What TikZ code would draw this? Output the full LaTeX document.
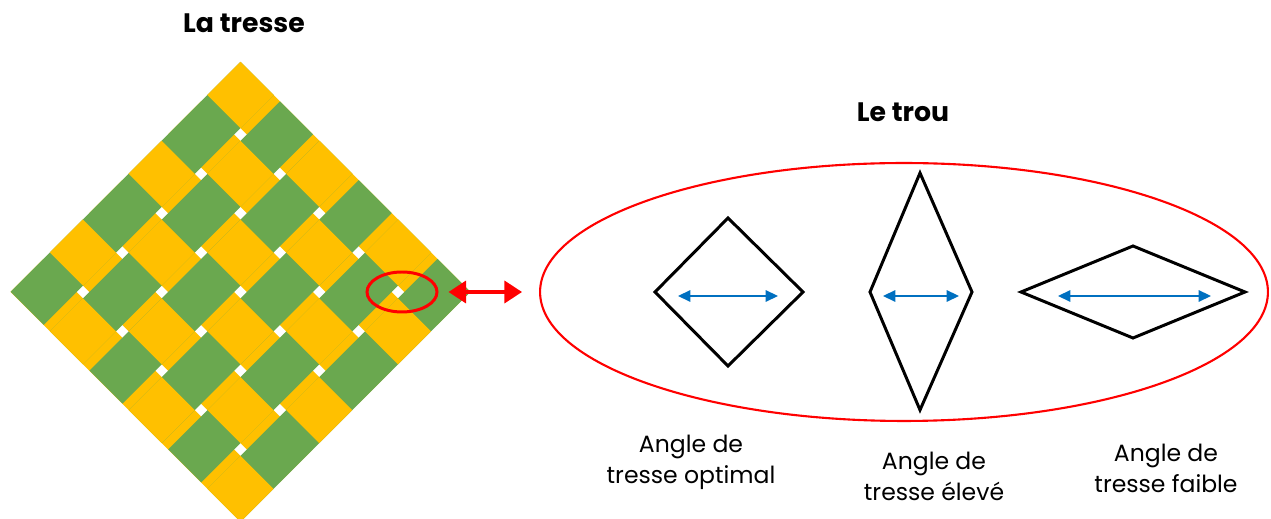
\documentclass[tikz,border=0pt]{standalone}
\usepackage{fontspec}
\setmainfont{Poppins}
\usetikzlibrary{arrows.meta, positioning, shapes.geometric}
\definecolor{tresseJaune}{RGB}{255,192,0}
\definecolor{tresseVert}{RGB}{106,168,79}
\definecolor{flecheBleue}{RGB}{0,112,192}

\begin{document}
\begin{tikzpicture}[x=0.02cm, y=-0.02cm,
    titre/.style={font=\bfseries\fontsize{15.2}{18}\selectfont},
    legende/.style={align=center, font=\fontsize{13.4}{17.6}\selectfont},
    losange/.style={draw=black, line width=1.7pt, line join=miter},
    cote/.style={draw=flecheBleue, line width=0.9pt,
        {Triangle[length=7pt,width=6.5pt]}-{Triangle[length=7pt,width=6.5pt]}},
    loupe/.style={draw=red, ellipse, inner sep=0pt}]
    \useasboundingbox (0,0) rectangle (1271,519);
    % 1. The braid (plain weave, 6 x 6 strips)
    \def\tw{46.7}
    \def\tp{55.7}
    \def\tl{325}
    \begin{scope}[shift={(240.5,62)}, rotate=-45]
        \foreach \i in {0,...,5} {
            \fill[tresseJaune] (0,\i*\tp) rectangle ++(\tl,\tw);
        }
        \foreach \j in {0,...,5} {
            \fill[tresseVert] (\j*\tp,0) rectangle ++(\tw,\tl);
        }
        \foreach \i in {0,...,5} {
            \foreach \j in {0,...,5} {
                \pgfmathtruncatemacro{\dessus}{mod(\i+\j,2)}
                \ifnum\dessus=0
                    \fill[tresseJaune] (\j*\tp,\i*\tp) rectangle ++(\tw,\tw);
                \fi
            }
        }
    \end{scope}
    \node[titre] (tresse) at (244,23) {La tresse};
    % 2. Zoom on one hole
    \node[loupe, line width=1.7pt, minimum width=1.4cm, minimum height=0.8cm] (zoom) at (402,292) {};
    \node[loupe, line width=1.2pt, minimum width=14.56cm, minimum height=5.16cm] (trou) at (904,292) {};
    \node[titre] (titretrou) at (903,112) {Le trou};
    \draw[red, line width=2pt, {Triangle[length=10pt,width=12.5pt]}-{Triangle[length=10pt,width=12.5pt]}]
        ([xshift=2mm]zoom.east) -- ([xshift=-3.4mm]trou.west);
    % 3. Hole shapes
    \draw[losange] (728,218) -- (803,292) -- (728,366) -- (655,292) -- cycle;
    \draw[losange] (920,173) -- (972,292) -- (920,410) -- (870,292) -- cycle;
    \draw[losange] (1133,246) -- (1245,292) -- (1133,338) -- (1021,292) -- cycle;
    \coordinate (o1) at (678,296);
    \coordinate (o2) at (778,296);
    \coordinate (e1) at (883,296);
    \coordinate (e2) at (959,296);
    \coordinate (f1) at (1058,296);
    \coordinate (f2) at (1211,296);
    \draw[cote] (o1) -- (o2);
    \draw[cote] (e1) -- (e2);
    \draw[cote] (f1) -- (f2);
    % 4. Captions
    \node[legende] (optimal) at (691,462) {Angle de\\tresse optimal};
    \node[legende] (eleve) at (934,476) {Angle de\\tresse élevé};
    \node[legende] (faible) at (1166,468) {Angle de\\tresse faible};
\end{tikzpicture}
\end{document}
